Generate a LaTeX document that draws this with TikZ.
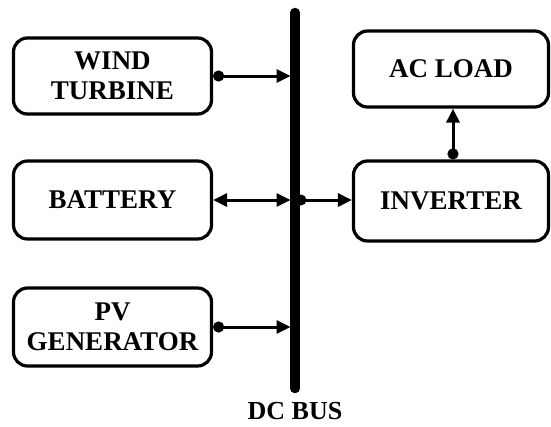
\documentclass[tikz,border=0pt]{standalone}
\usepackage{fontspec}
\setmainfont{Liberation Serif}
\usetikzlibrary{arrows.meta}
\tikzset{
  blockbox/.style={draw, line width=3.2pt, rounded corners=14pt, align=center,
    minimum width=198pt, inner sep=0pt, font=\bfseries\fontsize{27}{30}\selectfont},
  tipA/.tip={Triangle[length=14pt,width=13pt]},
  conn/.style={line width=3pt, -tipA},
  dotconn/.style={line width=3pt, {Circle[length=11pt]}-tipA},
  bothconn/.style={line width=3pt, tipA-tipA},
  buslabel/.style={inner sep=0pt, font=\bfseries\fontsize{26}{30}\selectfont}
}
\begin{document}
\begin{tikzpicture}[x=1pt,y=1pt]
\useasboundingbox (0,0) rectangle (551,-426);
% boxes
\node[blockbox, minimum height=76pt] (wind) at (112.5,-76) {WIND\\TURBINE};
\node[blockbox, minimum height=78pt] (batt) at (112.5,-200) {BATTERY};
\node[blockbox, minimum height=78pt] (pv) at (112.5,-327) {PV\\GENERATOR};
\node[blockbox, minimum height=76pt, minimum width=195pt] (load) at (451,-69) {AC LOAD};
\node[blockbox, minimum height=80pt, minimum width=195pt] (inv) at (451,-201) {INVERTER};
% bus
\coordinate (bustop) at (295,-12.5);
\coordinate (busbot) at (295,-388.5);
\coordinate (busleft) at (290.5,0);
\draw[line width=9.5pt, line cap=round] (bustop) -- (busbot);
\node[buslabel] (dcbus) at (295,-411) {DC BUS};
% connectors
\draw[dotconn] (wind.east) -- (wind.east -| busleft);
\draw[dotconn] (pv.east) -- (pv.east -| busleft);
\draw[bothconn] (batt.east) -- (batt.east -| busleft);
\coordinate (busdot) at (301,-200);
\fill (busdot) circle (5.5pt);
\draw[conn] (busdot) -- (busdot -| inv.west);
\draw[dotconn] (inv.north -| 453,0) -- (load.south -| 453,0);
\end{tikzpicture}
\end{document}
